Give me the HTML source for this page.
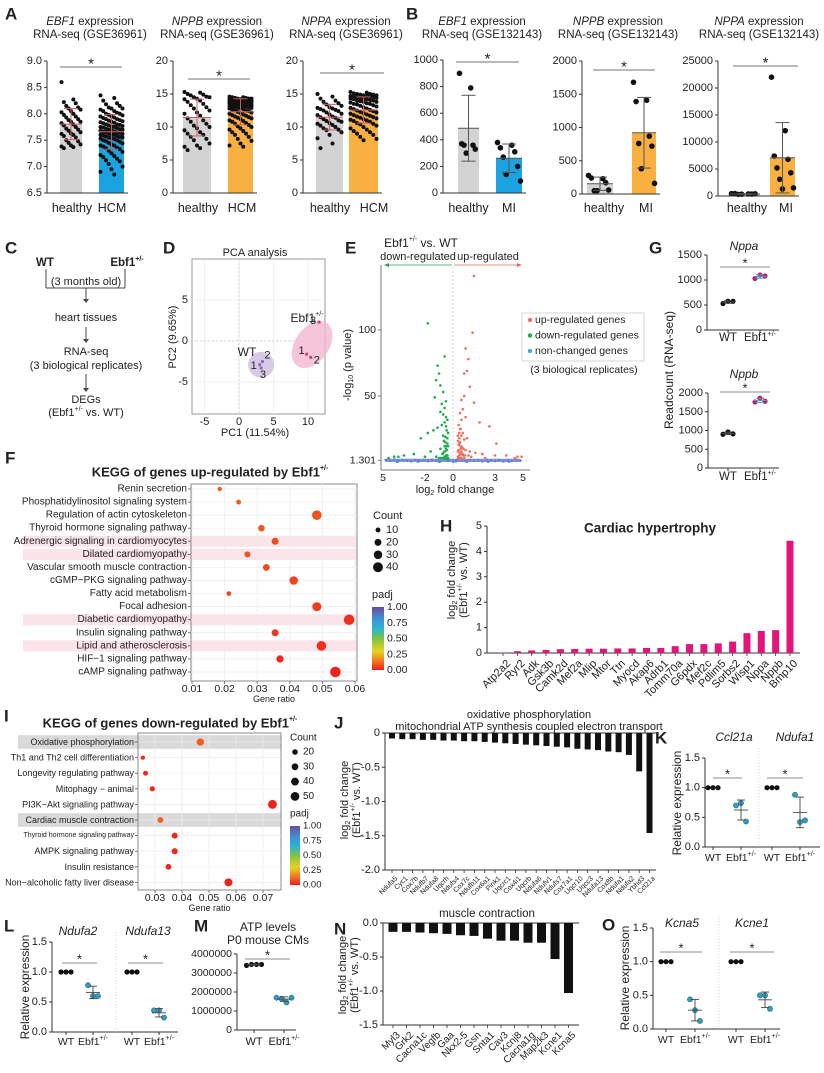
<!DOCTYPE html>
<html><head><meta charset="utf-8">
<style>
html,body{margin:0;padding:0;background:#fff;}
svg{display:block;font-family:"Liberation Sans",Arial,sans-serif;}
text{fill:#222;}
</style></head>
<body>
<svg id="fig" width="824" height="1073" viewBox="0 0 824 1073" xmlns="http://www.w3.org/2000/svg">
<defs>
<linearGradient id="padjGrad" x1="0" y1="1" x2="0" y2="0">
<stop offset="0" stop-color="#ee1c1c"/><stop offset="0.12" stop-color="#f26b21"/><stop offset="0.3" stop-color="#e8d321"/><stop offset="0.5" stop-color="#7dc242"/><stop offset="0.66" stop-color="#2ab5d6"/><stop offset="0.82" stop-color="#3f8fd0"/><stop offset="1" stop-color="#6a4ca0"/>
</linearGradient>
</defs>
</svg>
<script>
// ---------------- DATA ----------------
const A1_healthy=[8.6,8.27,8.22,8.2,8.15,8.12,8.1,8.08,8.05,8.03,8.0,7.98,7.95,7.93,7.9,7.88,7.85,7.85,7.82,7.8,7.78,7.75,7.72,7.7,7.68,7.65,7.63,7.62,7.6,7.58,7.55,7.5,7.48,7.45,7.42,7.4,7.38,7.37,7.35];
const A1_hcm=[8.35,8.3,8.25,8.2,8.18,8.15,8.12,8.1,8.1,8.08,8.05,8.05,8.02,8.0,8.0,7.98,7.97,7.95,7.95,7.93,7.92,7.9,7.9,7.88,7.87,7.86,7.85,7.84,7.83,7.82,7.8,7.8,7.79,7.78,7.77,7.76,7.75,7.75,7.74,7.73,7.72,7.71,7.7,7.7,7.69,7.68,7.67,7.66,7.65,7.65,7.64,7.63,7.62,7.61,7.6,7.6,7.59,7.58,7.57,7.56,7.55,7.55,7.54,7.53,7.52,7.5,7.5,7.48,7.47,7.45,7.44,7.42,7.4,7.4,7.38,7.36,7.35,7.33,7.3,7.28,7.25,7.22,7.2,7.18,7.15,7.12,7.1,7.05,7.0,6.95,6.9,6.85];
const A2_healthy=[15.3,15.2,15.0,14.9,14.8,14.6,14.5,14.5,14.3,14.2,14.0,13.8,13.5,13.3,13.0,12.8,12.5,12.2,12.0,11.7,11.3,11.0,10.8,10.5,10.2,10.0,9.8,9.5,9.2,9.0,8.8,8.5,8.2,8.0,7.5,7.2,7.0,6.8,6.5];
const A2_hcm=[14.6,14.5,14.5,14.4,14.4,14.3,14.3,14.3,14.2,14.2,14.2,14.1,14.1,14.1,14.0,14.0,14.0,14.0,13.9,13.9,13.9,13.8,13.8,13.8,13.7,13.7,13.7,13.6,13.6,13.5,13.5,13.5,13.4,13.4,13.3,13.3,13.2,13.2,13.1,13.1,13.0,13.0,12.9,12.9,12.8,12.8,12.7,12.6,12.5,12.5,12.4,12.3,12.2,12.1,12.0,11.9,11.8,11.7,11.6,11.5,11.4,11.3,11.2,11.0,10.9,10.8,10.6,10.5,10.3,10.1,10.0,9.8,9.6,9.4,9.2,9.0,8.8,8.5,8.2,7.9,7.5,7.2,7.0];
const A3_healthy=[15.0,14.6,14.3,14.0,13.8,13.6,13.4,13.2,13.0,12.9,12.8,12.7,12.6,12.5,12.4,12.2,12.0,11.9,11.8,11.6,11.5,11.4,11.2,11.0,10.9,10.8,10.6,10.5,10.3,10.2,10.0,9.8,9.6,9.5,9.2,8.8,8.3,7.5,6.8];
const A3_hcm=[15.3,15.2,15.1,15.0,15.0,14.9,14.9,14.8,14.8,14.7,14.7,14.6,14.6,14.5,14.5,14.4,14.4,14.3,14.3,14.2,14.2,14.1,14.0,14.0,13.9,13.8,13.8,13.7,13.6,13.5,13.5,13.4,13.3,13.2,13.1,13.0,12.9,12.8,12.7,12.6,12.5,12.4,12.3,12.2,12.1,12.0,11.9,11.8,11.7,11.6,11.5,11.4,11.3,11.2,11.1,11.0,10.9,10.8,10.6,10.5,10.4,10.2,10.0,9.8,9.6,9.4,9.2,9.0,8.8,8.5,8.2,8.0];
const B1_healthy=[900,790,370,360,360,330,300];
const B1_mi=[380,360,340,310,270,200,140,90];
const B2_healthy=[280,230,240,170,50,60,50];
const B2_mi=[1680,1410,1390,870,760,720,380,160];
const B3_healthy=[420,380,460,350,300,400,330];
const B3_mi=[22000,12100,7400,6800,5200,4300,3100,1500,1300];
const A_ticks1=[6.5,7.0,7.5,8.0,8.5,9.0];
const A_ticks2=[0,5,10,15,20];
const B_ticks1=[0,200,400,600,800,1000];
const B_ticks2=[0,500,1000,1500,2000];
const B_ticks3=[0,5000,10000,15000,20000,25000];
// PCA
const pcaNames=['WT1','WT2','WT3','E1','E2','E3'];
const pcaPC1=[3.0,3.4,3.2,9.8,10.4,11.6];
const pcaPC2=[-2.9,-2.5,-3.3,-1.6,-2.0,2.3];
// volcano
const upX=[1.5,1.4,0.9,1.1,0.8,1.0,1.2,0.8,1.5,0.6,0.7,0.5,0.9,0.6,1.9,2.6,0.4,0.5,0.7,0.6,1.0,0.8,0.5,0.45,0.55,0.65,0.75,0.9,1.2,1.6,2.1,3.0,3.8,4.6,0.4,0.6,0.5,0.7,0.4,0.5,0.8,1.3,2.3,0.6,0.45,0.35,0.4,0.55,0.35,0.5,0.7,0.45,0.35,0.6,0.4,0.5,0.85,1.1,0.35,0.45,0.55,3.1,4.4,4.9];
const upY=[141,98,86,78,67,69,57,50,45,47,40,37,34,32,30,27,28,25,22,20,18,17,15,14,12,11,10,9,8,7,6,5,5,4,9,8,6,5,4,3,3,4,3,6,18,16,13,10,8,7,6,5,4,3,3,2,5,5,20,22,25,14,3,4];
const downX=[-1.8,-1.1,-0.6,-1.2,-1.0,-0.9,-1.3,-0.7,-0.8,-0.5,-0.6,-0.9,-0.7,-0.5,-0.4,-0.6,-0.8,-1.1,-1.4,-1.8,-2.3,-0.5,-0.45,-0.7,-0.55,-0.65,-0.4,-0.5,-0.9,-1.6,-2.8,-3.5,-4.2,-0.6,-0.5,-0.45,-0.7,-0.5,-0.6,-0.8,-1.0,-2.0,-0.35,-0.4,-0.55,-0.35,-0.45,-0.6,-0.75,-0.4,-0.5,-0.35,-0.65,-0.85,-1.2,-0.4,-0.5,-4.6,-3.9];
const downY=[105,73,80,62,67,58,49,53,44,46,41,38,36,34,32,30,28,26,24,22,18,27,24,20,19,16,14,12,10,8,6,5,4,12,10,9,7,5,4,3,3,4,22,18,15,12,9,8,6,5,4,3,3,3,4,2,2,3,4];
const nonX=[-4.8,-4.5,-4.2,-3.9,-3.6,-3.3,-3.0,-2.7,-2.4,-2.1,-1.8,-1.5,-1.2,-0.9,-0.6,-0.3,0,0.3,0.6,0.9,1.2,1.5,1.8,2.1,2.4,2.7,3.0,3.3,3.6,3.9,4.2,4.5,4.8,-4.0,-2.5,-1.0,0.2,1.0,2.5,4.0];
const nonY=[1.5,1.0,1.8,0.8,1.4,1.1,0.6,1.6,0.9,1.3,0.7,1.7,1.2,0.5,1.9,1.0,0.4,1.8,1.1,0.7,1.5,0.9,1.3,0.6,1.6,1.0,0.8,1.4,0.5,1.2,0.9,1.7,1.0,0.3,0.4,0.3,0.5,0.4,0.3,0.4];
// G
const G_nppa_wt=[530,575,575];
const G_nppa_ebf=[1030,1100,1080];
const G_nppb_wt=[900,960,910];
const G_nppb_ebf=[1760,1860,1780];
const G_ticks1=[0,500,1000,1500];
const G_ticks2=[0,500,1000,1500,2000];
// F
const F_terms=['Renin secretion','Phosphatidylinositol signaling system','Regulation of actin cytoskeleton','Thyroid hormone signaling pathway','Adrenergic signaling in cardiomyocytes','Dilated cardiomyopathy','Vascular smooth muscle contraction','cGMP\u2212PKG signaling pathway','Fatty acid metabolism','Focal adhesion','Diabetic cardiomyopathy','Insulin signaling pathway','Lipid and atherosclerosis','HIF\u22121 signaling pathway','cAMP signaling pathway'];
const F_ratio=[0.0185,0.0243,0.0483,0.0313,0.0355,0.027,0.0328,0.0412,0.0213,0.0483,0.0582,0.0355,0.0497,0.037,0.054];
const F_count=[8,10,38,18,20,15,19,30,9,34,45,20,38,22,46];
const F_padj=[0.1,0.1,0.08,0.09,0.07,0.08,0.07,0.06,0.06,0.05,0.03,0.04,0.03,0.02,0.01];
const F_xticks=[0.01,0.02,0.03,0.04,0.05,0.06];
const F_highlight=[4,5,10,12];
// H
const H_genes=['Atp2a2','Ryr2','Adk','Gsk3b','Camk2d','Mef2a','Mlip','Mtor','Ttn','Myocd','Akap6','Adrb1','Tomm70a','G6pdx','Mef2c','Pdlim5','Sorbs2','Wisp1','Nppa','Nppb','Bmp10'];
const H_vals=[0.02,0.07,0.1,0.12,0.15,0.16,0.17,0.17,0.18,0.18,0.2,0.2,0.27,0.35,0.35,0.38,0.45,0.78,0.87,0.9,4.42];
const H_ticks=[0,1,2,3,4,5];
// I
const I_terms=['Oxidative phosphorylation','Th1 and Th2 cell differentiation','Longevity regulating pathway','Mitophagy \u2212 animal','PI3K\u2212Akt signaling pathway','Cardiac muscle contraction','Thyroid hormone signaling pathway','AMPK signaling pathway','Insulin resistance','Non\u2212alcoholic fatty liver disease'];
const I_ratio=[0.0468,0.0255,0.0265,0.029,0.0735,0.032,0.0373,0.0373,0.035,0.0572];
const I_count=[35,12,16,18,52,22,24,24,22,42];
const I_padj=[0.1,0.02,0.02,0.02,0.01,0.1,0.02,0.02,0.02,0.01];
const I_xticks=[0.03,0.04,0.05,0.06,0.07];
const I_highlight=[0,5];
// J
const J_genes=['Ndufa5','Cyc1','Cox7b','Ndufb7','Ndufa8','Uqcrh','Ndufs4','Cox7c','Ndufb11','Cox6a1','Pink1','Uqcrc1','Cox4i1','Uqcrb','Ndufa6','Ndufv1','Ndufs7','Cox7a1','Uqcr10','Uqcc3','Ndufa13','Cox8b','Ndufa1','Ndufa2','Ybhd3','Ccl21a'];
const J_vals=[-0.08,-0.09,-0.09,-0.1,-0.1,-0.11,-0.11,-0.12,-0.12,-0.13,-0.14,-0.15,-0.16,-0.17,-0.18,-0.19,-0.2,-0.21,-0.23,-0.24,-0.25,-0.27,-0.28,-0.32,-0.56,-1.46];
const J_ticks=[0,-0.5,-1.0,-1.5,-2.0];
// N
const N_genes=['Myl3','Grk2','Cacna1c','Vegfb','Gaa','Nkx2-5','Gsn','Snta1','Cav3','Kcnj8','Cacna1g','Map2k3','Kcne1','Kcna5'];
const N_vals=[-0.13,-0.13,-0.14,-0.15,-0.16,-0.18,-0.19,-0.23,-0.26,-0.26,-0.29,-0.29,-0.53,-1.03];
const N_ticks=[0,-0.5,-1.0,-1.5];
// K L M O
const K_ccl_wt=[1,1,1], K_ccl_ebf=[0.7,0.74,0.43];
const K_nd1_wt=[1,1,1], K_nd1_ebf=[0.88,0.42,0.45];
const L_nd2_wt=[1,1,1], L_nd2_ebf=[0.78,0.6,0.6];
const L_nd13_wt=[1,1,1], L_nd13_ebf=[0.36,0.36,0.24];
const M_wt=[3400000,3450000,3450000,3450000], M_ebf=[1700000,1650000,1450000,1700000];
const O_kcna5_wt=[1,1,1], O_kcna5_ebf=[0.44,0.28,0.12];
const O_kcne1_wt=[1,1,1], O_kcne1_ebf=[0.5,0.5,0.3];
const rel_ticks=[0,0.5,1.0,1.5];
const M_ticks=[0,1000000,2000000,3000000,4000000];

// ---------------- HELPERS ----------------
const NS='http://www.w3.org/2000/svg';
const svg=document.getElementById('fig');
function mk(tag,attrs,name){
  const el=document.createElementNS(NS,tag);
  for(const k in attrs) el.setAttribute(k,attrs[k]);
  
  
  svg.appendChild(el);
  return el;
}
function txt(x,y,s,opts,name){
  const t=mk('text',Object.assign({x:x,y:y,'font-size':11,'text-anchor':'middle','dominant-baseline':'central'},opts||{}),name);
  t.innerHTML=s;
  return t;
}
function line(x1,y1,x2,y2,stroke,w,name,extra){return mk('line',Object.assign({x1:x1,y1:y1,x2:x2,y2:y2,stroke:stroke,'stroke-width':w},extra||{}),name);}
function lin(d0,d1,r0,r1){return v=>r0+(v-d0)/(d1-d0)*(r1-r0);}
function mean(a){return a.reduce((s,v)=>s+v,0)/a.length;}
function sd(a){const m=mean(a);return Math.sqrt(a.reduce((s,v)=>s+(v-m)*(v-m),0)/(a.length-1));}
const SUP='<tspan baseline-shift="super" font-size="7">+/-</tspan>';
function yAxis(x,sc,ticks,fmt,name,fs){
  line(x,sc(ticks[0]),x,sc(ticks[ticks.length-1]),'#333',1,name+'-line');
  ticks.forEach(t=>{
    line(x-3,sc(t),x,sc(t),'#333',1,name+'-tick');
    txt(x-5,sc(t),fmt(t),{'text-anchor':'end','font-size':fs||11,fill:'#333'},name+'-label');
  });
}
function panelLabel(x,y,s){txt(x,y,s,{'font-size':17,'font-weight':'bold','text-anchor':'start',fill:'#111'},'panel-label-'+s.toLowerCase());}
function padjColor(p){
  const st=[[0,[238,28,28]],[0.12,[242,107,33]],[0.3,[232,211,33]],[0.5,[125,194,66]],[0.66,[42,181,214]],[0.82,[63,143,208]],[1,[106,76,160]]];
  for(let i=1;i<st.length;i++){if(p<=st[i][0]){const a=st[i-1],b=st[i];const f=(p-a[0])/(b[0]-a[0]);const c=a[1].map((v,j)=>Math.round(v+(b[1][j]-v)*f));return 'rgb('+c.join(',')+')';}}
  return 'rgb(106,76,160)';
}

// ---------------- PANELS A & B ----------------
panelLabel(5,14,'A'); panelLabel(406,14,'B');
function barDot(cfg){
  const sc=lin(cfg.min,cfg.max,cfg.bot,cfg.top);
  cfg.title.forEach((t,i)=>txt(cfg.tx,22+i*13,t,{'font-size':11.5},cfg.name+'-title'));
  cfg.groups.forEach((g,gi)=>{
    const m=mean(g.vals), s=sd(g.vals), cx=(g.x0+g.x1)/2;
    mk('rect',{x:g.x0,y:sc(m),width:g.x1-g.x0,height:cfg.bot-sc(m),fill:g.color},cfg.name+'-bar-'+g.label);
    const w=g.x1-g.x0-3;
    g.vals.forEach((v,i)=>{
      const off=(((i*5)%9)/8-0.5)*w;
      mk('circle',{cx:cx+off,cy:sc(v),r:cfg.r||2.0,fill:'#111'},cfg.name+'-point');
    });
    line(cx,sc(m+s),cx,sc(Math.max(cfg.min,m-s)),cfg.err,1,cfg.name+'-error-bar');
    line(cx-7,sc(m+s),cx+7,sc(m+s),cfg.err,1,cfg.name+'-error-cap');
    if(m-s>cfg.min) line(cx-7,sc(m-s),cx+7,sc(m-s),cfg.err,1,cfg.name+'-error-cap');
    line(g.x0,sc(m),g.x1,sc(m),cfg.err,1,cfg.name+'-mean-line');
    txt(g.lx!==undefined?g.lx:cx,208,g.label,{'font-size':12.5},cfg.name+'-x-label');
  });
  line(cfg.ax,cfg.bot,cfg.groups[1].x1+4,cfg.bot,'#333',1,cfg.name+'-x-axis');
  yAxis(cfg.ax,sc,cfg.ticks,cfg.fmt,cfg.name+'-y-axis',11);
  line(cfg.sig[1],cfg.sig[0],cfg.sig[2],cfg.sig[0],'#444',0.8,cfg.name+'-sig-line');
  txt((cfg.sig[1]+cfg.sig[2])/2,cfg.sig[0]-3,'*',{'font-size':15},cfg.name+'-sig-star');
}
const f1=t=>t.toFixed(1), f0=t=>String(t);
barDot({name:'a-ebf1',ax:47,top:61,bot:193,min:6.5,max:9.0,ticks:A_ticks1,fmt:f1,tx:90,title:['<tspan font-style="italic">EBF1</tspan> expression','RNA-seq (GSE36961)'],err:'#c86060',sig:[67,60,122],groups:[{x0:60,x1:82,color:'#d3d3d3',vals:A1_healthy,label:'healthy',lx:72},{x0:99,x1:124,color:'#1aa3e0',vals:A1_hcm,label:'HCM',lx:112}]});
barDot({name:'a-nppb',ax:173,top:61,bot:193,min:0,max:20,ticks:A_ticks2,fmt:f0,tx:217,title:['<tspan font-style="italic">NPPB</tspan> expression','RNA-seq (GSE36961)'],err:'#c86060',sig:[79,188,250],groups:[{x0:183,x1:211,color:'#d3d3d3',vals:A2_healthy,label:'healthy',lx:198},{x0:228,x1:253,color:'#f9b040',vals:A2_hcm,label:'HCM',lx:242}]});
barDot({name:'a-nppa',ax:303,top:61,bot:193,min:0,max:20,ticks:A_ticks2,fmt:f0,tx:346,title:['<tspan font-style="italic">NPPA</tspan> expression','RNA-seq (GSE36961)'],err:'#c86060',sig:[73,320,384],groups:[{x0:316,x1:343,color:'#d3d3d3',vals:A3_healthy,label:'healthy',lx:330},{x0:349,x1:378,color:'#f9b040',vals:A3_hcm,label:'HCM',lx:374}]});
barDot({name:'b-ebf1',ax:443,top:60,bot:193,min:0,max:1000,ticks:B_ticks1,fmt:f0,tx:482,title:['<tspan font-style="italic">EBF1</tspan> expression','RNA-seq (GSE132143)'],err:'#555',r:2.8,sig:[62,456,519],groups:[{x0:458,x1:479,color:'#d3d3d3',vals:B1_healthy,label:'healthy'},{x0:496,x1:522,color:'#1aa3e0',vals:B1_mi,label:'MI'}]});
barDot({name:'b-nppb',ax:582,top:61,bot:194,min:0,max:2000,ticks:B_ticks2,fmt:f0,tx:618,title:['<tspan font-style="italic">NPPB</tspan> expression','RNA-seq (GSE132143)'],err:'#555',r:2.8,sig:[70,593,655],groups:[{x0:587,x1:613,color:'#d3d3d3',vals:B2_healthy,label:'healthy',lx:604},{x0:632,x1:656,color:'#f9b040',vals:B2_mi,label:'MI',lx:646}]});
barDot({name:'b-nppa',ax:718,top:61,bot:196,min:0,max:25000,ticks:B_ticks3,fmt:f0,tx:759,title:['<tspan font-style="italic">NPPA</tspan> expression','RNA-seq (GSE132143)'],err:'#555',r:2.8,sig:[66,733,798],groups:[{x0:730,x1:760,color:'#d3d3d3',vals:B3_healthy,label:'healthy',lx:747},{x0:770,x1:795,color:'#f9b040',vals:B3_mi,label:'MI',lx:786}]});

// ---------------- PANEL C ----------------
panelLabel(5,248,'C');
txt(45,263,'WT',{'font-weight':'bold','font-size':11.5},'c-wt-label');
txt(127,263,'Ebf1'+SUP,{'font-weight':'bold','font-size':11.5},'c-ebf1-label');
line(46,269,46,288,'#444',1,'c-bracket');line(125,269,125,288,'#444',1,'c-bracket');line(46,288,125,288,'#444',1,'c-bracket');
txt(86,282,'(3 months old)',{'font-size':11},'c-age-note');
[[288,303],[327,343],[374,392]].forEach(a=>{line(86,a[0],86,a[1]-3,'#444',1,'c-arrow');mk('path',{d:`M83,${a[1]-4} L89,${a[1]-4} L86,${a[1]} Z`,fill:'#444'},'c-arrowhead');});
txt(86,318,'heart tissues',{'font-size':11},'c-step-heart');
txt(86,352,'RNA-seq',{'font-size':11},'c-step-rnaseq');
txt(86,366,'(3 biological replicates)',{'font-size':11},'c-step-replicates');
txt(86,400,'DEGs',{'font-size':11},'c-step-degs');
txt(86,413,'(Ebf1'+SUP+' vs.  WT)',{'font-size':11},'c-step-comparison');

// ---------------- PANEL D ----------------
panelLabel(163,248,'D');
txt(255,253,'PCA analysis',{'font-size':11},'d-title');
const pcX=lin(0,10,239,308), pcY=lin(0,5,341,300);
mk('rect',{x:192,y:259,width:133,height:155,fill:'#fff',stroke:'#999','stroke-width':1},'d-plot-area');
[-5,0,5,10].forEach(v=>line(pcX(v),259,pcX(v),414,'#eee',0.8,'d-grid-x'));
[-5,0,5].forEach(v=>line(192,pcY(v),325,pcY(v),'#eee',0.8,'d-grid-y'));
line(pcX(0),259,pcX(0),414,'#ccc',0.8,'d-zero-x',{'stroke-dasharray':'2,2'});
line(192,pcY(0),325,pcY(0),'#ccc',0.8,'d-zero-y',{'stroke-dasharray':'2,2'});
const wtCx=mean(pcaPC1.slice(0,3)),wtCy=mean(pcaPC2.slice(0,3)),ebCx=mean(pcaPC1.slice(3)),ebCy=mean(pcaPC2.slice(3));
mk('ellipse',{cx:pcX(wtCx),cy:pcY(wtCy),rx:13,ry:13,fill:'#c7b3dd','fill-opacity':0.7},'d-wt-ellipse');
mk('ellipse',{cx:pcX(ebCx),cy:pcY(ebCy),rx:17,ry:26,fill:'#f3b6d0','fill-opacity':0.8,transform:`rotate(35 ${pcX(ebCx)} ${pcY(ebCy)})`},'d-ebf1-ellipse');
const pcaLab=['1','2','3','1','2','3'], pcaDx=[-6,5,2,-5,6,-6], pcaDy=[1,-6,7,-3,3,-1];
pcaPC1.forEach((v,i)=>{
  mk('circle',{cx:pcX(v),cy:pcY(pcaPC2[i]),r:1.6,fill:i<3?'#8a6cb8':'#d0407a'},'d-sample-point');
  txt(pcX(v)+pcaDx[i],pcY(pcaPC2[i])+pcaDy[i],pcaLab[i],{'font-size':11},'d-sample-label');
});
txt(247,352,'WT',{'font-size':12},'d-wt-group-label');
txt(307,318,'Ebf1'+SUP,{'font-size':12},'d-ebf1-group-label');
[-5,0,5,10].forEach(v=>txt(pcX(v),422,String(v),{'font-size':11},'d-x-tick'));
[-5,0,5].forEach(v=>txt(188,pcY(v),String(v),{'font-size':11,'text-anchor':'end'},'d-y-tick'));
txt(255,433,'PC1 (11.54%)',{'font-size':11},'d-x-axis-title');
txt(173,337,'PC2 (9.65%)',{'font-size':11,transform:'rotate(-90 173 337)'},'d-y-axis-title');

// ---------------- PANEL E ----------------
panelLabel(345,248,'E');
const vX=lin(0,5,453,523), vY=lin(0,100,462,330);
txt(421,243,'Ebf1'+SUP+' vs.  WT',{'font-size':12},'e-title');
txt(418,257,'down-regulated',{'font-size':11,fill:'#22a055'},'e-down-label');
txt(488,257,'up-regulated',{'font-size':11,fill:'#e86a5a'},'e-up-label');
line(386,265,452,265,'#22a055',0.8,'e-down-arrow');mk('path',{d:'M384,265 L389,263 L389,267Z',fill:'#22a055'},'e-down-arrowhead');
line(454,265,519,265,'#e86a5a',0.8,'e-up-arrow');mk('path',{d:'M522,265 L517,263 L517,267Z',fill:'#e86a5a'},'e-up-arrowhead');
line(453,267,453,468,'#ccc',0.8,'e-zero-line',{'stroke-dasharray':'2,2'});
line(381,265,381,470,'#777',1,'e-y-axis');
line(381,470,530,470,'#777',1,'e-x-axis');
line(381,vY(1.301),530,vY(1.301),'#ccc',0.8,'e-threshold-line',{'stroke-dasharray':'2,2'});
nonX.forEach((v,i)=>mk('circle',{cx:vX(v),cy:vY(nonY[i]),r:1.4,fill:'#5b7fd0'},'e-nonchanged-point'));
mk('rect',{x:vX(-4.8),y:vY(2.5),width:vX(4.8)-vX(-4.8),height:vY(0)-vY(2.5),fill:'#6a86d4','fill-opacity':0.85},'e-nonchanged-band');
downX.forEach((v,i)=>mk('circle',{cx:vX(v),cy:vY(downY[i]),r:1.3,fill:'#1faa4e'},'e-down-point'));
upX.forEach((v,i)=>mk('circle',{cx:vX(v),cy:vY(upY[i]),r:1.3,fill:'#ef6f62'},'e-up-point'));
[[100,'100'],[50,'50'],[1.301,'1.301']].forEach(t=>{line(378,vY(t[0]),381,vY(t[0]),'#777',1,'e-y-tick');txt(376,vY(t[0]),t[1],{'font-size':10.5,'text-anchor':'end'},'e-y-tick-label');});
[[-5,'5'],[-2,'-2'],[0,'0'],[3,'3'],[5,'5']].forEach(t=>txt(vX(t[0]),478,t[1],{'font-size':10.5},'e-x-tick-label'));
txt(455,490,'log<tspan font-size="7" baseline-shift="sub">2</tspan> fold change',{'font-size':11},'e-x-axis-title');
txt(348,365,'-log<tspan font-size="7" baseline-shift="sub">10</tspan> (p value)',{'font-size':11,transform:'rotate(-90 348 365)'},'e-y-axis-title');
mk('rect',{x:522,y:313,width:122,height:48,fill:'#fff',stroke:'#ccc','stroke-width':0.8},'e-legend-box');
[['up-regulated genes','#ef6f62'],['down-regulated genes','#1faa4e'],['non-changed genes','#3fa9d8']].forEach((e,i)=>{
  mk('circle',{cx:530,cy:320+i*15.5,r:2.2,fill:e[1]},'e-legend-marker');
  txt(535,320+i*15.5,e[0],{'font-size':10.5,'text-anchor':'start'},'e-legend-entry');
});
txt(584,370,'(3 biological replicates)',{'font-size':10.5},'e-replicates-note');

// ---------------- DOT GROUP PLOTS (G K L M O) ----------------
function dotPlot(cfg){
  const sc=lin(cfg.ticks[0],cfg.ticks[cfg.ticks.length-1],cfg.bot,cfg.top);
  yAxis(cfg.ax,sc,cfg.ticks,cfg.fmt,cfg.name+'-y-axis',cfg.fs||11);
  line(cfg.ax,cfg.bot,cfg.xEnd,cfg.bot,'#333',1,cfg.name+'-x-axis');
  cfg.groups.forEach(g=>{
    line(g.x,cfg.bot,g.x,cfg.bot+3,'#333',1,cfg.name+'-x-tick');
    txt(g.x,cfg.labY,g.label,{'font-size':cfg.lfs||11.5},cfg.name+'-x-label');
    const m=mean(g.vals), s=sd(g.vals), n=g.vals.length;
    g.vals.forEach((v,i)=>{
      mk('circle',{cx:g.x+(i-(n-1)/2)*5,cy:sc(v),r:2.6,fill:g.color,stroke:g.stroke||'none','stroke-width':0.6},cfg.name+'-point');
    });
    if(s>0){
      line(g.x,sc(m+s),g.x,sc(m-s),g.err||'#444',0.9,cfg.name+'-error-bar');
      line(g.x-4,sc(m+s),g.x+4,sc(m+s),g.err||'#444',0.9,cfg.name+'-error-cap');
      line(g.x-4,sc(m-s),g.x+4,sc(m-s),g.err||'#444',0.9,cfg.name+'-error-cap');
      line(g.x-7,sc(m),g.x+7,sc(m),g.err||'#444',0.9,cfg.name+'-mean-line');
    }
  });
  cfg.sigs.forEach(s=>{line(s[1],s[0],s[2],s[0],'#666',0.8,cfg.name+'-sig-line');txt((s[1]+s[2])/2,s[0]-4,'*',{'font-size':13},cfg.name+'-sig-star');});
  (cfg.titles||[]).forEach(t=>txt(t[0],t[1],t[2],{'font-size':12,'font-style':'italic'},cfg.name+'-title'));
  (cfg.seps||[]).forEach(x=>line(x,cfg.top-10,x,cfg.bot,'#ccc',0.8,cfg.name+'-separator',{'stroke-dasharray':'1,2'}));
}
const fRel=t=>t.toFixed(1);
const EBF='Ebf1'+SUP;
panelLabel(649,248,'G');
dotPlot({name:'g-nppa',ax:707,top:255,bot:330,xEnd:779,ticks:G_ticks1,fmt:f0,labY:338,sigs:[[267,720,770]],titles:[[744,246,'Nppa']],
  groups:[{x:728,vals:G_nppa_wt,color:'#111',label:'WT'},{x:760,vals:G_nppa_ebf,color:'#c0206a',err:'#4aa0c8',label:EBF}]});
dotPlot({name:'g-nppb',ax:708,top:393,bot:468,xEnd:779,ticks:G_ticks2,fmt:f0,labY:477,sigs:[[392,720,770]],titles:[[744,374,'Nppb']],
  groups:[{x:728,vals:G_nppb_wt,color:'#111',label:'WT'},{x:760,vals:G_nppb_ebf,color:'#c0206a',err:'#4aa0c8',label:EBF}]});
txt(669,370,'Readcount (RNA-seq)',{'font-size':12,transform:'rotate(-90 669 370)'},'g-y-axis-title');

panelLabel(655,738,'K');
dotPlot({name:'k-qpcr',ax:705,top:758,bot:847,xEnd:820,ticks:rel_ticks,fmt:fRel,labY:858,lfs:10.5,sigs:[[778,713,742],[778,767,803]],titles:[[734,737,'Ccl21a'],[795,737,'Ndufa1']],seps:[759],
  groups:[{x:713,vals:K_ccl_wt,color:'#111',label:'WT'},{x:741,vals:K_ccl_ebf,color:'#3a9cbc',stroke:'#1d6f8c',label:EBF},{x:772,vals:K_nd1_wt,color:'#111',label:'WT'},{x:800,vals:K_nd1_ebf,color:'#3a9cbc',stroke:'#1d6f8c',label:EBF}]});
txt(677,803,'Relative expression',{'font-size':12,transform:'rotate(-90 677 803)'},'k-y-axis-title');

panelLabel(4,926,'L');
dotPlot({name:'l-qpcr',ax:52,top:942,bot:1032,xEnd:178,ticks:rel_ticks,fmt:fRel,labY:1042,lfs:10.5,sigs:[[963,62,97],[963,128,163]],titles:[[78,931,'Ndufa2'],[148,931,'Ndufa13']],seps:[116],
  groups:[{x:66,vals:L_nd2_wt,color:'#111',label:'WT'},{x:93,vals:L_nd2_ebf,color:'#3a9cbc',stroke:'#1d6f8c',label:EBF},{x:132,vals:L_nd13_wt,color:'#111',label:'WT'},{x:159,vals:L_nd13_ebf,color:'#3a9cbc',stroke:'#1d6f8c',label:EBF}]});
txt(25,987,'Relative expression',{'font-size':12,transform:'rotate(-90 25 987)'},'l-y-axis-title');

panelLabel(194,926,'M');
txt(268,927,'ATP levels',{'font-size':12},'m-title');
txt(268,940,'P0 mouse CMs',{'font-size':12},'m-subtitle');
dotPlot({name:'m-atp',ax:237,top:954,bot:1030,xEnd:296,ticks:M_ticks,fmt:f0,fs:10.5,labY:1042,lfs:11,sigs:[[959,245,290]],
  groups:[{x:254,vals:M_wt,color:'#111',label:'WT'},{x:284,vals:M_ebf,color:'#3a9cbc',stroke:'#1d6f8c',label:EBF}]});

panelLabel(602,925,'O');
dotPlot({name:'o-qpcr',ax:653,top:928,bot:1029,xEnd:780,ticks:rel_ticks,fmt:fRel,labY:1040,lfs:10.5,sigs:[[952,660,702],[952,730,774]],titles:[[682,923,'Kcna5'],[752,923,'Kcne1']],seps:[719],
  groups:[{x:666,vals:O_kcna5_wt,color:'#111',label:'WT'},{x:695,vals:O_kcna5_ebf,color:'#3a9cbc',stroke:'#1d6f8c',label:EBF},{x:736,vals:O_kcne1_wt,color:'#111',label:'WT'},{x:765,vals:O_kcne1_ebf,color:'#3a9cbc',stroke:'#1d6f8c',label:EBF}]});
txt(625,978,'Relative expression',{'font-size':12,transform:'rotate(-90 625 978)'},'o-y-axis-title');

// ---------------- KEGG DOT PLOTS (F, I) ----------------
function kegg(cfg){
  const xs=lin(cfg.xd[0],cfg.xd[1],cfg.xr[0],cfg.xr[1]);
  const ry=i=>cfg.y0+i*cfg.dy;
  cfg.hl.forEach(i=>mk('rect',{x:cfg.hlX,y:ry(i)-cfg.dy/2+1,width:cfg.box[2]-cfg.hlX,height:cfg.dy-2,fill:cfg.hlColor},cfg.name+'-highlight-band'));
  mk('rect',{x:cfg.box[0],y:cfg.box[1],width:cfg.box[2]-cfg.box[0],height:cfg.box[3]-cfg.box[1],fill:'none',stroke:'#888','stroke-width':1},cfg.name+'-plot-area');
  cfg.xticks.forEach(t=>{line(xs(t),cfg.box[1],xs(t),cfg.box[3],'#ececec',0.7,cfg.name+'-grid-x');line(xs(t),cfg.box[3],xs(t),cfg.box[3]+3,'#555',0.8,cfg.name+'-x-tick');txt(xs(t),cfg.box[3]+8,String(t),{'font-size':10.5},cfg.name+'-x-tick-label');});
  cfg.terms.forEach((t,i)=>{
    line(cfg.box[0],ry(i),cfg.box[2],ry(i),'#ececec',0.7,cfg.name+'-grid-y');
    line(cfg.box[0]-3,ry(i),cfg.box[0],ry(i),'#555',0.8,cfg.name+'-y-tick');
    txt(cfg.box[0]-4,ry(i),t,{'font-size':(cfg.small&&cfg.small.includes(i))?7:cfg.fs,'text-anchor':'end'},cfg.name+'-term-label');
    mk('circle',{cx:xs(cfg.ratio[i]),cy:ry(i),r:cfg.rk*Math.sqrt(cfg.count[i]),fill:padjColor(cfg.padj[i])},cfg.name+'-term-dot');
  });
  txt((cfg.box[0]+cfg.box[2])/2,cfg.box[3]+18,'Gene ratio',{'font-size':9},cfg.name+'-x-axis-title');
  txt(cfg.lg[0],cfg.lg[1],'Count',{'font-size':cfg.lfs,'text-anchor':'start'},cfg.name+'-legend-title');
  cfg.lgCounts.forEach((c,i)=>{mk('circle',{cx:cfg.lg[0]+5,cy:cfg.lg[1]+14+i*cfg.lgStep,r:cfg.rk*Math.sqrt(c),fill:'#111'},cfg.name+'-legend-size');txt(cfg.lg[0]+13,cfg.lg[1]+14+i*cfg.lgStep,String(c),{'font-size':cfg.lfs,'text-anchor':'start'},cfg.name+'-legend-size-label');});
  txt(cfg.cb[0],cfg.cb[1]-12,'padj',{'font-size':cfg.lfs,'text-anchor':'start'},cfg.name+'-colorbar-title');
  mk('rect',{x:cfg.cb[0],y:cfg.cb[1],width:cfg.cb[2],height:cfg.cb[3],fill:'url(#padjGrad)'},cfg.name+'-colorbar');
  ['0.00','0.25','0.50','0.75','1.00'].forEach((l,i)=>txt(cfg.cb[0]+cfg.cb[2]+3,cfg.cb[1]+cfg.cb[3]-i*cfg.cb[3]/4,l,{'font-size':cfg.lfs-0.5,'text-anchor':'start'},cfg.name+'-colorbar-label'));
}
panelLabel(5,458,'F');
txt(210,472,'KEGG of genes up-regulated by Ebf1'+SUP,{'font-size':13,'font-weight':'bold'},'f-title');
kegg({name:'f-kegg',terms:F_terms,ratio:F_ratio,count:F_count,padj:F_padj,xticks:F_xticks,hl:F_highlight,hlColor:'#fbe3ea',hlX:23,
  xd:[0.01,0.06],xr:[192,355],y0:489,dy:13.07,box:[191,484,357,681],fs:10,rk:0.78,
  lg:[373,516],lgCounts:[10,20,30,40],lgStep:12.4,lfs:11,cb:[372,607,12,63]});

panelLabel(4,716,'I');
txt(170,723,'KEGG of genes down-regulated by Ebf1'+SUP,{'font-size':13,'font-weight':'bold'},'i-title');
kegg({name:'i-kegg',terms:I_terms,ratio:I_ratio,count:I_count,padj:I_padj,xticks:I_xticks,hl:I_highlight,hlColor:'#d9d9d9',hlX:18,small:[6],
  xd:[0.03,0.07],xr:[155,263],y0:742,dy:15.6,box:[138,733,281,890],fs:9,rk:0.62,
  lg:[290,738],lgCounts:[20,30,40,50],lgStep:14.8,lfs:10,cb:[290,826,10,59]});

// ---------------- BAR CHARTS (H, J, N) ----------------
function barChart(cfg){
  const sc=lin(cfg.ticks[0],cfg.ticks[cfg.ticks.length-1],cfg.y0,cfg.y1);
  yAxis(cfg.ax,sc,cfg.ticks,cfg.fmt,cfg.name+'-y-axis',11);
  line(cfg.ax,sc(0),cfg.xEnd,sc(0),'#333',1,cfg.name+'-zero-axis');
  if(cfg.bottomAxis) line(cfg.ax,cfg.labBase-4,cfg.xEnd,cfg.labBase-4,'#333',1,cfg.name+'-x-axis');
  cfg.genes.forEach((g,i)=>{
    const cx=cfg.c0+i*cfg.step, v=cfg.vals[i];
    mk('rect',{x:cx-cfg.bw/2,y:Math.min(sc(0),sc(v)),width:cfg.bw,height:Math.abs(sc(v)-sc(0)),fill:cfg.color},cfg.name+'-bar');
    line(cx,cfg.labBase-4,cx,cfg.labBase-1,'#333',0.8,cfg.name+'-x-tick');
    txt(cx+3,cfg.labBase+2,g,{'font-size':cfg.lfs,'text-anchor':'end','dominant-baseline':'hanging',transform:`rotate(-45 ${cx+3} ${cfg.labBase+2})`},cfg.name+'-gene-label');
  });
}
panelLabel(440,526,'H');
txt(650,528,'Cardiac hypertrophy',{'font-size':13.5,'font-weight':'bold'},'h-title');
barChart({name:'h-bars',genes:H_genes,vals:H_vals,ticks:H_ticks,fmt:f0,ax:487,y0:653,y1:526,xEnd:800,c0:503,step:14.35,bw:7,color:'#e3157a',labBase:657,lfs:11});
txt(452,580,'log<tspan font-size="7" baseline-shift="sub">2</tspan> fold change',{'font-size':11,transform:'rotate(-90 452 580)'},'h-y-axis-title');
txt(464,580,'(Ebf1'+SUP+' vs. WT)',{'font-size':11,transform:'rotate(-90 464 580)'},'h-y-axis-title-2');

panelLabel(334,723,'J');
txt(529,715,'oxidative phosphorylation',{'font-size':11},'j-title');
txt(529,727,'mitochondrial ATP synthesis coupled electron transport',{'font-size':11},'j-subtitle');
barChart({name:'j-bars',genes:J_genes,vals:J_vals,ticks:J_ticks,fmt:t=>t===0?'0':t.toFixed(1),ax:385,y0:733,y1:870,xEnd:656,c0:392,step:10.3,bw:6,color:'#111',labBase:874,lfs:7,bottomAxis:true});
txt(345,800,'log<tspan font-size="7" baseline-shift="sub">2</tspan> fold change',{'font-size':11,transform:'rotate(-90 345 800)'},'j-y-axis-title');
txt(357,800,'(Ebf1'+SUP+' vs. WT)',{'font-size':11,transform:'rotate(-90 357 800)'},'j-y-axis-title-2');

panelLabel(334,929,'N');
txt(487,914,'muscle contraction',{'font-size':11.5},'n-title');
barChart({name:'n-bars',genes:N_genes,vals:N_vals,ticks:N_ticks,fmt:t=>t.toFixed(1),ax:383,y0:923,y1:1025,xEnd:579,c0:393,step:13.5,bw:9,color:'#111',labBase:1029,lfs:10,bottomAxis:true});
txt(343,975,'log<tspan font-size="7" baseline-shift="sub">2</tspan> fold change',{'font-size':11,transform:'rotate(-90 343 975)'},'n-y-axis-title');
txt(355,975,'(Ebf1'+SUP+' vs. WT)',{'font-size':11,transform:'rotate(-90 355 975)'},'n-y-axis-title-2');
</script>
</body></html>
